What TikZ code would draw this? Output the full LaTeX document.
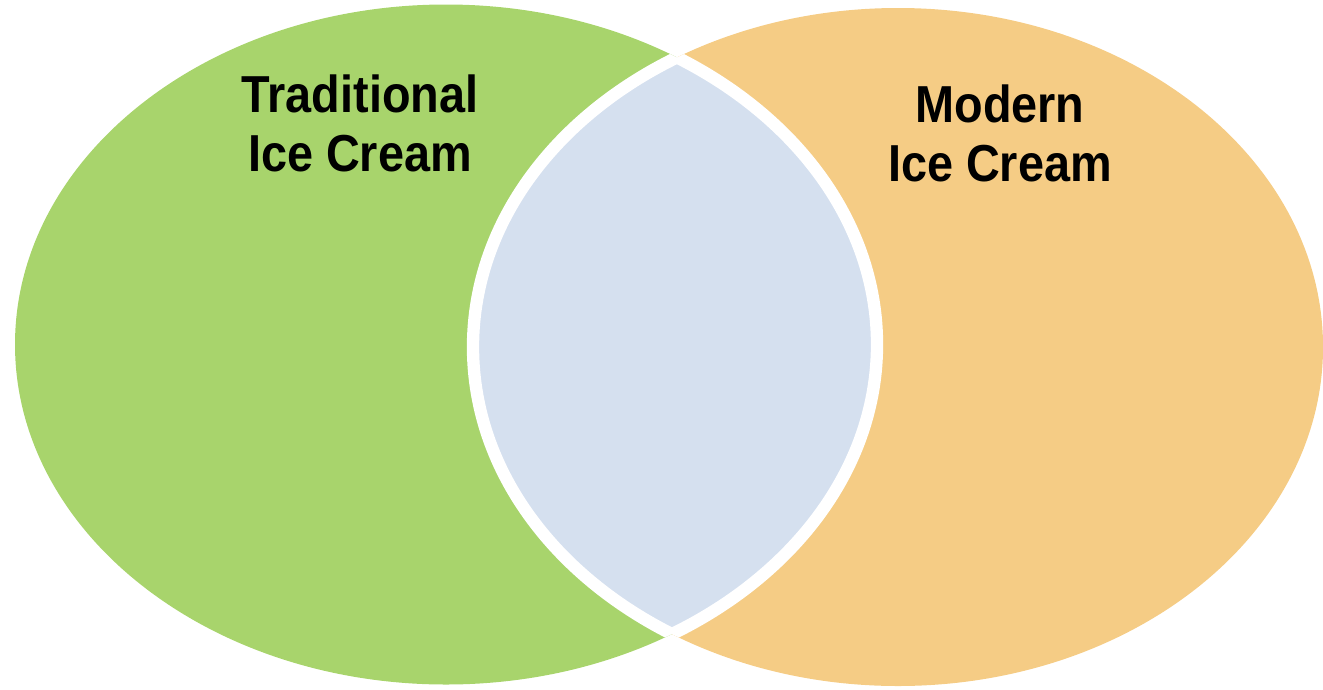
\documentclass[tikz,border=0pt]{standalone}
\usepackage{fontspec}
\setsansfont{Liberation Sans}[FakeStretch=0.9]
\usepackage{tikz}
\usetikzlibrary{positioning}
\definecolor{tradgreen}{HTML}{A8D46C}
\definecolor{modorange}{HTML}{F5CC85}
\definecolor{overlap}{HTML}{D5E0EF}
\tikzset{setname/.style={font=\sffamily\bfseries\fontsize{14.8}{16.8}\selectfont, align=center, inner sep=0pt, text=black}}

\begin{document}
\begin{tikzpicture}
    \useasboundingbox (0,0) rectangle (13.23,6.89);
    \coordinate (lc) at (4.46,3.445);
    \coordinate (rc) at (8.98,3.42);

    \fill[tradgreen] (lc) ellipse [x radius=4.31, y radius=3.40];
    \fill[modorange] (rc) ellipse [x radius=4.25, y radius=3.39];

    % overlap with white rim
    \begin{scope}
        \clip (lc) ellipse [x radius=4.31, y radius=3.40];
        \fill[overlap] (rc) ellipse [x radius=4.25, y radius=3.39];
        \draw[white, line width=3.5pt] (rc) ellipse [x radius=4.25, y radius=3.39];
    \end{scope}
    \begin{scope}
        \clip (rc) ellipse [x radius=4.25, y radius=3.39];
        \draw[white, line width=3.5pt] (lc) ellipse [x radius=4.31, y radius=3.40];
    \end{scope}

    \node[setname] (trad) at (3.60,5.66) {Traditional\\Ice Cream};
    \node[setname] (modern) at (10.00,5.56) {Modern\\Ice Cream};
\end{tikzpicture}
\end{document}
